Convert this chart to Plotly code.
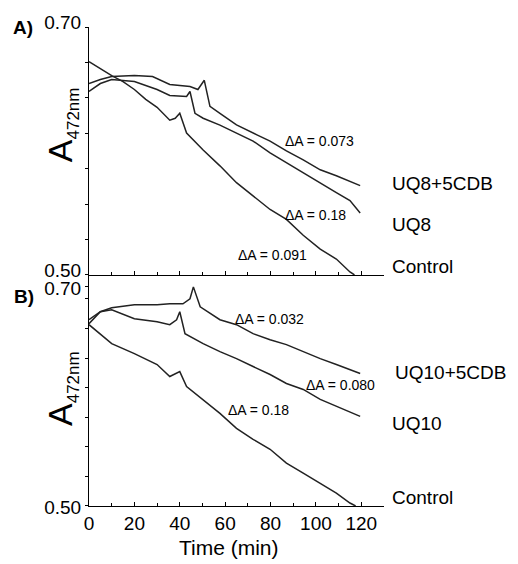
import plotly.graph_objects as go

# ---------------- data ----------------
# Panel A
a_uq8cdb_t = [0, 5, 10, 20, 28, 35.6, 44.5, 48, 50.8, 53.3, 57.7, 65, 74, 79.8, 87, 94.4, 101.9, 109, 119.5]
a_uq8cdb_v = [0.6544, 0.6576, 0.660, 0.6608, 0.660, 0.6536, 0.652, 0.6496, 0.657, 0.636, 0.6304, 0.621,
              0.613, 0.608, 0.600, 0.5928, 0.5848, 0.580, 0.572]

a_uq8_t = [0, 5, 10, 20, 30, 35.6, 43, 44.5, 46.7, 50.3, 57.7, 65, 72.3, 79.8, 87, 94.4, 101.9, 109, 115, 119.5]
a_uq8_v = [0.648, 0.6544, 0.6576, 0.656, 0.6496, 0.6448, 0.644, 0.648, 0.6304, 0.6264, 0.6208, 0.6144,
           0.608, 0.5984, 0.5904, 0.5824, 0.5744, 0.5664, 0.560, 0.550]

a_ctrl_t = [0, 5, 10, 15, 20, 25, 30, 35.6, 38, 40, 43, 50.3, 57.7, 65, 72.3, 79.8, 87, 94.4, 101.9, 109, 115, 117]
a_ctrl_v = [0.672, 0.6664, 0.6608, 0.656, 0.6496, 0.6416, 0.6352, 0.6248, 0.6264, 0.6304, 0.6144, 0.6008,
            0.588, 0.5744, 0.564, 0.5528, 0.5448, 0.532, 0.5208, 0.5128, 0.5024, 0.500]

# Panel B
b_uq10cdb_t = [0, 5, 10, 20, 30, 35.6, 41.4, 44.5, 46, 49, 57.7, 65, 72.3, 79.8, 87, 94.4, 101.9, 109, 119.5]
b_uq10cdb_v = [0.6664, 0.6773, 0.6809, 0.6836, 0.6836, 0.6845, 0.6845, 0.6891, 0.700, 0.6818, 0.670,
               0.6655, 0.6573, 0.6518, 0.6473, 0.6409, 0.6345, 0.6291, 0.6209]

b_uq10_t = [0, 5, 10, 20, 30, 35.6, 38.6, 40, 42.3, 50.3, 57.7, 65, 72.3, 79.8, 87, 94.4, 101.9, 109, 119.5]
b_uq10_v = [0.670, 0.6773, 0.6791, 0.6709, 0.6682, 0.6655, 0.670, 0.6773, 0.6573, 0.6482, 0.6409, 0.6345,
            0.6273, 0.620, 0.6118, 0.6064, 0.5973, 0.5909, 0.5818]

b_ctrl_t = [0, 10, 20, 30, 35.6, 40, 43, 50.3, 57.7, 65, 72.3, 79.8, 87, 94.4, 101.9, 109, 115, 117.5]
b_ctrl_v = [0.6655, 0.6482, 0.6391, 0.6291, 0.6182, 0.6227, 0.6091, 0.5973, 0.5845, 0.5709, 0.5609,
            0.5518, 0.5391, 0.530, 0.5209, 0.5118, 0.5027, 0.500]

x_tickvals = [0, 20, 40, 60, 80, 100, 120]
y_tickvals = [0.50, 0.70]
y_ticktext = ["0.50", "0.70"]

a_series_labels = ["UQ8+5CDB", "UQ8", "Control"]
b_series_labels = ["UQ10+5CDB", "UQ10", "Control"]
a_delta_labels = ["ΔA = 0.073", "ΔA = 0.18", "ΔA = 0.091"]
b_delta_labels = ["ΔA = 0.032", "ΔA = 0.080", "ΔA = 0.18"]

# ---------------- figure ----------------
FONT = "Liberation Sans, Arial, sans-serif"
W, H = 518, 564
L, R, T, B = 89, 134, 23, 58
PW, PH = W - L - R, H - T - B


def px_x(px):
    return (px - L) / PW


def px_y(py):
    return (H - B - py) / PH


line_style = dict(color="#222222", width=1.5)

fig = go.Figure()
for t, v in [(a_uq8cdb_t, a_uq8cdb_v), (a_uq8_t, a_uq8_v), (a_ctrl_t, a_ctrl_v)]:
    fig.add_trace(go.Scatter(x=t, y=v, mode="lines", line=line_style, xaxis="x", yaxis="y",
                             showlegend=False, hoverinfo="skip"))
for t, v in [(b_uq10cdb_t, b_uq10cdb_v), (b_uq10_t, b_uq10_v), (b_ctrl_t, b_ctrl_v)]:
    fig.add_trace(go.Scatter(x=t, y=v, mode="lines", line=line_style, xaxis="x2", yaxis="y2",
                             showlegend=False, hoverinfo="skip"))

split = px_y(273)

common_x = dict(range=[0, 130], showgrid=False, zeroline=False, showline=True, linecolor="black",
                linewidth=1, ticks="inside", ticklen=4, tickcolor="black", tickvals=x_tickvals,
                minor=dict(dtick=10, tick0=0, ticks="inside", ticklen=3, tickcolor="black"))
common_y = dict(showgrid=False, zeroline=False, showline=True, linecolor="black", linewidth=1,
                ticks="outside", ticklen=3, tickcolor="black", tickvals=y_tickvals, ticktext=y_ticktext,
                tickfont=dict(family=FONT, size=19, color="black"))

fig.update_layout(
    width=W, height=H,
    margin=dict(l=L, r=R, t=T, b=B, pad=0),
    paper_bgcolor="white", plot_bgcolor="white",
    font=dict(family=FONT, color="black"),
    xaxis=dict(anchor="y", showticklabels=False, **common_x),
    xaxis2=dict(anchor="y2", matches="x", showticklabels=True,
                tickfont=dict(family=FONT, size=19, color="black"), **common_x),
    yaxis=dict(domain=[split, 1], range=[0.50, 0.70], anchor="x", ticklabelshift=-5,
               minor=dict(tick0=0.5, dtick=0.2 / 7, ticks="outside", ticklen=3, tickcolor="black"),
               **common_y),
    yaxis2=dict(domain=[0, split], range=[0.50, 0.7109], anchor="x2", ticklabelshift=1,
                minor=dict(tick0=0.5, dtick=0.027, ticks="outside", ticklen=3, tickcolor="black"),
                **common_y),
)

ann = []
# panel letters
ann.append(dict(text="<b>A)</b>", x=px_x(11), y=px_y(24), xanchor="left", yanchor="middle",
                font=dict(size=19)))
ann.append(dict(text="<b>B)</b>", x=px_x(12), y=px_y(295), xanchor="left", yanchor="middle",
                font=dict(size=19)))
# y titles
ytitle = 'A<sub><span style="font-size:17px">472nm</span></sub>'
for yc in (122, 388):
    ann.append(dict(text=ytitle, x=px_x(62), y=px_y(yc), xanchor="center", yanchor="middle",
                    textangle=-90, font=dict(size=34)))
# x title
ann.append(dict(text="Time (min)", x=px_x(229), y=px_y(548), xanchor="center", yanchor="middle",
                font=dict(size=21)))
# series labels
for txt, (lx, ly) in zip(a_series_labels, [(390, 181), (390, 222), (390, 264)]):
    ann.append(dict(text=txt, x=px_x(lx), y=px_y(ly), xanchor="left", yanchor="middle",
                    font=dict(size=19)))
for txt, (lx, ly) in zip(b_series_labels, [(393, 371), (390, 423), (390, 497)]):
    ann.append(dict(text=txt, x=px_x(lx), y=px_y(ly), xanchor="left", yanchor="middle",
                    font=dict(size=19)))
# delta labels
for txt, (lx, ly) in zip(a_delta_labels, [(283, 138), (283, 213), (236, 253)]):
    ann.append(dict(text=txt, x=px_x(lx), y=px_y(ly), xanchor="left", yanchor="middle",
                    font=dict(size=14)))
for txt, (lx, ly) in zip(b_delta_labels, [(233, 317), (304, 384), (226, 409)]):
    ann.append(dict(text=txt, x=px_x(lx), y=px_y(ly), xanchor="left", yanchor="middle",
                    font=dict(size=14)))

for a in ann:
    a.update(xref="paper", yref="paper", showarrow=False)
    a["font"] = dict(family=FONT, color="black", size=a["font"]["size"])
fig.update_layout(annotations=ann)

fig.write_html("out.html", config={"displayModeBar": False},
               post_script="document.body.style.margin='0';")
